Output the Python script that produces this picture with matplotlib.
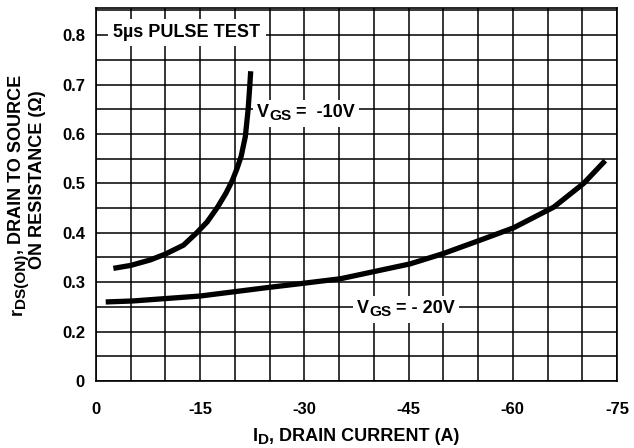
import numpy as np
import matplotlib
matplotlib.use("Agg")
import matplotlib.pyplot as plt
from matplotlib.transforms import IdentityTransform, Bbox
from matplotlib.patches import Rectangle

plt.rcParams['font.family'] = ['Liberation Sans', 'DejaVu Sans']
plt.rcParams['font.weight'] = 'bold'

# data
id_10v = [-2.5, -5.0, -7.8, -10.0, -12.6, -14.5, -16.0, -17.5, -18.7, -19.6, -20.3,
          -20.9, -21.5, -21.9, -22.15, -22.27]
r_10v = [0.328, 0.334, 0.345, 0.357, 0.375, 0.400, 0.422, 0.452, 0.480, 0.505, 0.530,
         0.555, 0.595, 0.650, 0.700, 0.727]
id_20v = [-1.4, -5.3, -15.0, -24.6, -29.4, -35.2, -45.2, -50.0, -54.9, -60.1, -65.9, -70.2, -73.3]
r_20v = [0.260, 0.262, 0.272, 0.289, 0.297, 0.307, 0.337, 0.358, 0.383, 0.410, 0.452, 0.500, 0.546]

x_ticks = [0, -15, -30, -45, -60, -75]
x_ticklabels = ['0', '-15', '-30', '-45', '-60', '-75']
# broken axis: bottom gridline is labelled 0, next labelled gridline is 0.2
y_ticks = [0.1, 0.2, 0.3, 0.4, 0.5, 0.6, 0.7, 0.8]
y_ticklabels = ['0', '0.2', '0.3', '0.4', '0.5', '0.6', '0.7', '0.8']

W, H = 634, 448
fig = plt.figure(figsize=(W / 100, H / 100), dpi=100)
ax = fig.add_axes([96 / W, 1 - 381 / H, (617 - 96) / W, (381 - 8) / H])

ax.set_xlim(0, -75)
ax.set_ylim(0.1, 0.855)
ax.set_xticks(x_ticks)
ax.set_xticklabels(x_ticklabels)
ax.set_yticks(y_ticks)
ax.set_yticklabels(y_ticklabels)
ax.set_xticks(np.arange(0, -80, -5), minor=True)
ax.set_yticks(np.arange(0.1, 0.86, 0.05), minor=True)
ax.grid(which='both', color='black', linewidth=1.1)
ax.tick_params(which='both', length=0, labelsize=12)
ax.tick_params(axis='x', pad=15)
ax.tick_params(axis='y', pad=8)
for s in ax.spines.values():
    s.set_linewidth(1.2)

ax.plot(id_10v, r_10v, color='black', linewidth=3.8, solid_capstyle='butt',
        solid_joinstyle='round', zorder=3)
ax.plot(id_20v, r_20v, color='black', linewidth=3.8, solid_capstyle='butt',
        solid_joinstyle='round', zorder=3)

renderer = fig.canvas.get_renderer()


def rich(px, py, pieces, size, rotation=0, box=False, pad=4, parent=None):
    """Place text pieces (text, rel_size, baseline shift in em) centred at pixel (px, py)."""
    parent = parent if parent is not None else fig
    size_px = size * 100 / 72
    th = np.deg2rad(rotation)
    d = np.array([np.cos(th), np.sin(th)])
    n = np.array([-np.sin(th), np.cos(th)])
    arts, widths = [], []
    for s, rs, sh in pieces:
        t = parent.text(0, 0, s, fontsize=size * rs, fontweight='bold', ha='left',
                        va='baseline', transform=IdentityTransform(), zorder=6)
        widths.append(t.get_window_extent(renderer).width)
        arts.append(t)
    L = sum(widths)
    pos = -L / 2
    anchor = np.array([px, H - py])
    for t, w, (s, rs, sh) in zip(arts, widths, pieces):
        p = anchor + pos * d + (-0.36 * size_px + sh * size_px) * n
        t.set_position((p[0], p[1]))
        t.set_rotation(rotation)
        t.set_rotation_mode('anchor')
        pos += w
    if box:
        bb = Bbox.union([t.get_window_extent(renderer) for t in arts])
        r = Rectangle((bb.x0 - pad, bb.y0 - pad), bb.width + 2 * pad, bb.height + 2 * pad,
                      facecolor='white', edgecolor='none', transform=IdentityTransform(),
                      zorder=5)
        parent.add_artist(r)
    return arts


# annotations inside the plot
rich(187, 30, [('5µs PULSE TEST', 1, 0)], 13, box=True, pad=5, parent=ax)
rich(306, 110, [('V', 1, 0), ('GS', 0.85, -0.2), (' =  -10V', 1, 0)], 13, box=True, pad=4, parent=ax)
rich(406, 306, [('V', 1, 0), ('GS', 0.85, -0.2), (' = - 20V', 1, 0)], 13, box=True, pad=4, parent=ax)

# axis titles
rich(15, 195, [('r', 1, 0), ('DS(ON)', 0.85, -0.2), (', DRAIN TO SOURCE', 1, 0)], 13, rotation=90)
rich(35.5, 180, [('ON RESISTANCE (Ω)', 1, 0)], 13, rotation=90)
rich(356, 434, [('I', 1, 0), ('D', 0.85, -0.2), (', DRAIN CURRENT (A)', 1, 0)], 13)

fig.savefig('out.png', dpi=100)
